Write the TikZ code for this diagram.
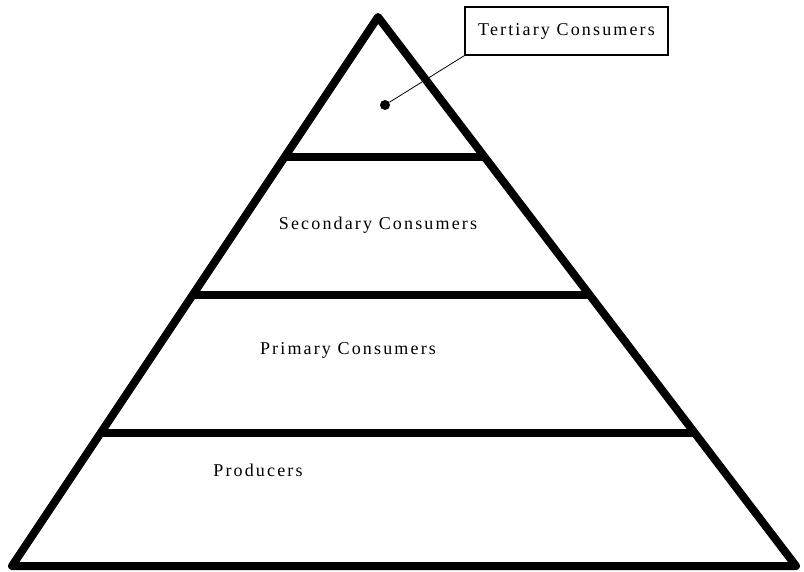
\documentclass[tikz,border=0pt]{standalone}
\usepackage{fontspec}
\setmainfont{Liberation Serif}
\usetikzlibrary{calc}

\begin{document}
\begin{tikzpicture}[x=1pt, y=-1pt,
  font=\fontsize{18}{20}\selectfont\addfontfeature{LetterSpace=12},
  side/.style={line width=8pt, line join=round, line cap=round},
  level/.style={line width=8pt},
  tag/.style={draw, line width=1.2pt, minimum width=203pt, minimum height=48pt, inner sep=0pt},
  pin/.style={circle, fill=black, minimum size=10pt, inner sep=0pt},
  leader/.style={line width=0.8pt}
]
  \useasboundingbox (0,0) rectangle (804,572);
  \coordinate (apex) at (378,17);
  \coordinate (bl) at (12,566);
  \coordinate (br) at (796,566);
  % pyramid
  \draw[side] (bl) -- (apex) -- (br) -- cycle;
  \draw[level] ($(apex)!0.255!(bl)$) -- ($(apex)!0.255!(br)$);
  \draw[level] ($(apex)!0.506!(bl)$) -- ($(apex)!0.506!(br)$);
  \draw[level] ($(apex)!0.758!(bl)$) -- ($(apex)!0.758!(br)$);
  % labels
  \node (sec)  at (378,225) {Secondary Consumers};
  \node (prim) at (348,350) {Primary Consumers};
  \node (prod) at (258,470) {Producers};
  \node[tag] (tert) at (566.5,31) {Tertiary Consumers};
  \node[pin] (dot) at (385,105) {};
  \draw[leader] (tert.south west) -- (dot);
\end{tikzpicture}
\end{document}
